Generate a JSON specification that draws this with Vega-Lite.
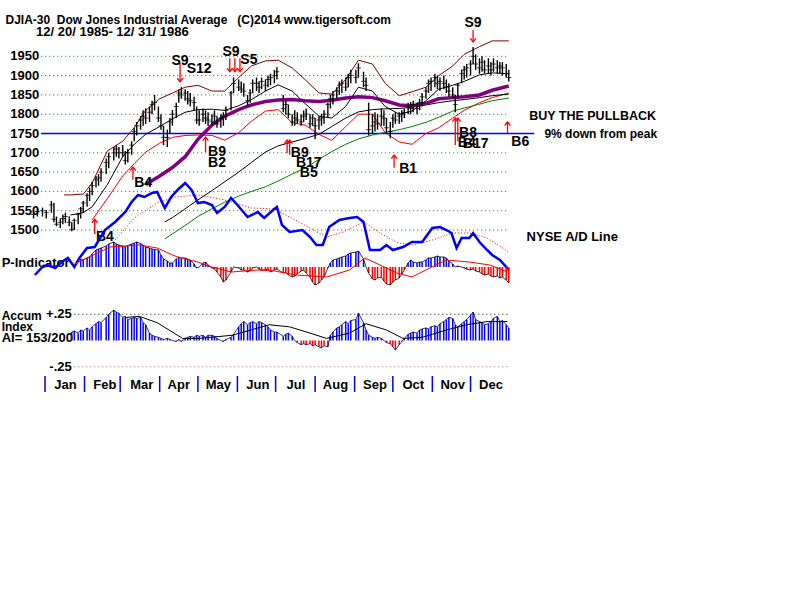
{
"$schema":"https://vega.github.io/schema/vega-lite/v6.json",
"width":800,"height":600,"padding":0,"autosize":{"type":"none"},"background":"white",
"config":{"view":{"stroke":null},"font":"Liberation Sans","mark":{"invalid":"filter"}},
"datasets":{
"bars":[
{"d":"1985-12-23","lo":1530,"hi":1552,"c":1540},
{"d":"1985-12-26","lo":1535,"hi":1555,"c":1548},
{"d":"1985-12-30","lo":1535,"hi":1558,"c":1550},
{"d":"1986-01-02","lo":1530,"hi":1552,"c":1545},
{"d":"1986-01-06","lo":1545,"hi":1575,"c":1565},
{"d":"1986-01-08","lo":1520,"hi":1570,"c":1528},
{"d":"1986-01-10","lo":1510,"hi":1535,"c":1515},
{"d":"1986-01-13","lo":1505,"hi":1530,"c":1520},
{"d":"1986-01-15","lo":1515,"hi":1540,"c":1530},
{"d":"1986-01-17","lo":1518,"hi":1545,"c":1535},
{"d":"1986-01-20","lo":1510,"hi":1535,"c":1520},
{"d":"1986-01-22","lo":1497,"hi":1520,"c":1502,"a":0.08},
{"d":"1986-01-24","lo":1500,"hi":1530,"c":1525,"a":0.09},
{"d":"1986-01-27","lo":1515,"hi":1545,"c":1540,"a":0.07},
{"d":"1986-01-29","lo":1530,"hi":1560,"c":1555,"p":80,"a":0.10},
{"d":"1986-01-31","lo":1545,"hi":1575,"c":1570,"p":70,"a":0.09},
{"d":"1986-02-03","lo":1560,"hi":1595,"c":1590,"p":90,"a":0.12},
{"d":"1986-02-05","lo":1575,"hi":1610,"c":1600,"p":100,"a":0.10},
{"d":"1986-02-07","lo":1590,"hi":1625,"c":1615,"p":130,"a":0.13},
{"d":"1986-02-10","lo":1610,"hi":1640,"c":1630,"p":170,"a":0.16},
{"d":"1986-02-12","lo":1615,"hi":1645,"c":1635,"p":180,"a":0.18},
{"d":"1986-02-14","lo":1625,"hi":1660,"c":1650,"p":190,"a":0.17},
{"d":"1986-02-18","lo":1645,"hi":1685,"c":1675,"p":210,"a":0.22},
{"d":"1986-02-20","lo":1660,"hi":1700,"c":1690,"p":230,"a":0.25},
{"d":"1986-02-24","lo":1680,"hi":1715,"c":1700,"p":250,"a":0.29},
{"d":"1986-02-26","lo":1690,"hi":1720,"c":1710,"p":230,"a":0.27},
{"d":"1986-02-28","lo":1685,"hi":1715,"c":1700,"p":220,"a":0.26},
{"d":"1986-03-03","lo":1690,"hi":1720,"c":1700,"p":210,"a":0.22},
{"d":"1986-03-05","lo":1670,"hi":1705,"c":1680,"p":200,"a":0.23},
{"d":"1986-03-07","lo":1675,"hi":1710,"c":1700,"p":215,"a":0.20},
{"d":"1986-03-10","lo":1695,"hi":1730,"c":1720,"p":230,"a":0.21},
{"d":"1986-03-12","lo":1730,"hi":1765,"c":1755,"p":240,"a":0.22},
{"d":"1986-03-14","lo":1745,"hi":1780,"c":1770,"p":250,"a":0.21},
{"d":"1986-03-17","lo":1760,"hi":1795,"c":1785,"p":235,"a":0.22},
{"d":"1986-03-19","lo":1770,"hi":1810,"c":1795,"p":220,"a":0.17},
{"d":"1986-03-21","lo":1775,"hi":1815,"c":1790,"p":200,"a":0.15},
{"d":"1986-03-24","lo":1780,"hi":1820,"c":1805,"p":190,"a":0.07},
{"d":"1986-03-26","lo":1800,"hi":1835,"c":1825,"p":180,"a":0.05},
{"d":"1986-03-28","lo":1810,"hi":1850,"c":1830,"p":175,"a":0.04},
{"d":"1986-03-31","lo":1780,"hi":1820,"c":1790,"p":170,"a":0.03},
{"d":"1986-04-02","lo":1760,"hi":1800,"c":1770,"p":120,"a":0.02},
{"d":"1986-04-04","lo":1720,"hi":1770,"c":1740,"p":80,"a":0.01},
{"d":"1986-04-07","lo":1715,"hi":1760,"c":1740,"p":60,"a":0.02},
{"d":"1986-04-09","lo":1750,"hi":1790,"c":1780,"p":40,"a":0.01},
{"d":"1986-04-11","lo":1770,"hi":1811,"c":1800,"p":40,"a":0.0},
{"d":"1986-04-14","lo":1790,"hi":1830,"c":1820,"p":80,"a":-0.01},
{"d":"1986-04-16","lo":1830,"hi":1865,"c":1855,"p":100,"a":0.01},
{"d":"1986-04-18","lo":1840,"hi":1870,"c":1850,"p":90,"a":-0.01},
{"d":"1986-04-21","lo":1835,"hi":1865,"c":1855,"p":90,"a":0.02},
{"d":"1986-04-23","lo":1825,"hi":1860,"c":1840,"p":80,"a":0.03},
{"d":"1986-04-25","lo":1820,"hi":1855,"c":1835,"p":70,"a":0.04},
{"d":"1986-04-28","lo":1810,"hi":1845,"c":1830,"p":30,"a":0.03},
{"d":"1986-04-30","lo":1775,"hi":1820,"c":1785,"p":-10,"a":0.05},
{"d":"1986-05-02","lo":1770,"hi":1810,"c":1785,"p":0,"a":0.04},
{"d":"1986-05-05","lo":1780,"hi":1815,"c":1800,"p":40,"a":0.05},
{"d":"1986-05-07","lo":1775,"hi":1810,"c":1790,"p":50,"a":0.03},
{"d":"1986-05-09","lo":1770,"hi":1805,"c":1785,"p":20,"a":0.05},
{"d":"1986-05-12","lo":1770,"hi":1800,"c":1780,"p":-10,"a":0.05},
{"d":"1986-05-14","lo":1775,"hi":1810,"c":1795,"p":-20,"a":0.04},
{"d":"1986-05-16","lo":1765,"hi":1795,"c":1775,"p":-50,"a":0.02},
{"d":"1986-05-19","lo":1765,"hi":1800,"c":1790,"p":-100,"a":0.0},
{"d":"1986-05-21","lo":1770,"hi":1805,"c":1795,"p":-150,"a":-0.01},
{"d":"1986-05-23","lo":1785,"hi":1820,"c":1810,"p":-130,"a":0.01},
{"d":"1986-05-27","lo":1810,"hi":1860,"c":1855,"p":-50,"a":0.03},
{"d":"1986-05-29","lo":1855,"hi":1895,"c":1880,"p":0,"a":0.06},
{"d":"1986-06-02","lo":1860,"hi":1890,"c":1870,"p":-10,"a":0.13},
{"d":"1986-06-04","lo":1855,"hi":1885,"c":1865,"p":-30,"a":0.16},
{"d":"1986-06-06","lo":1845,"hi":1880,"c":1860,"p":-30,"a":0.18},
{"d":"1986-06-09","lo":1820,"hi":1850,"c":1835,"p":-50,"a":0.15},
{"d":"1986-06-11","lo":1830,"hi":1865,"c":1855,"p":-40,"a":0.17},
{"d":"1986-06-13","lo":1855,"hi":1890,"c":1880,"p":-10,"a":0.18},
{"d":"1986-06-16","lo":1860,"hi":1895,"c":1880,"p":0,"a":0.16},
{"d":"1986-06-18","lo":1855,"hi":1885,"c":1870,"p":-20,"a":0.18},
{"d":"1986-06-20","lo":1865,"hi":1895,"c":1885,"p":-30,"a":0.17},
{"d":"1986-06-23","lo":1860,"hi":1890,"c":1875,"p":-30,"a":0.15},
{"d":"1986-06-25","lo":1870,"hi":1900,"c":1890,"p":-20,"a":0.13},
{"d":"1986-06-27","lo":1875,"hi":1905,"c":1895,"p":-50,"a":0.10},
{"d":"1986-06-30","lo":1880,"hi":1915,"c":1900,"p":-30,"a":0.08},
{"d":"1986-07-02","lo":1890,"hi":1922,"c":1910,"p":-20,"a":0.08},
{"d":"1986-07-07","lo":1805,"hi":1850,"c":1815,"p":-60,"a":0.04},
{"d":"1986-07-09","lo":1800,"hi":1835,"c":1825,"p":-50,"a":0.06},
{"d":"1986-07-11","lo":1790,"hi":1825,"c":1800,"p":-80,"a":0.07},
{"d":"1986-07-14","lo":1770,"hi":1800,"c":1780,"p":-100,"a":0.04},
{"d":"1986-07-16","lo":1770,"hi":1810,"c":1790,"p":-90,"a":0.0},
{"d":"1986-07-18","lo":1775,"hi":1805,"c":1785,"p":-70,"a":-0.02},
{"d":"1986-07-21","lo":1770,"hi":1800,"c":1780,"p":-40,"a":-0.04},
{"d":"1986-07-23","lo":1780,"hi":1810,"c":1795,"p":-30,"a":-0.03},
{"d":"1986-07-25","lo":1785,"hi":1815,"c":1800,"p":-60,"a":-0.04},
{"d":"1986-07-28","lo":1765,"hi":1800,"c":1775,"p":-100,"a":-0.03},
{"d":"1986-07-30","lo":1770,"hi":1800,"c":1790,"p":-150,"a":-0.05},
{"d":"1986-08-01","lo":1735,"hi":1790,"c":1770,"p":-180,"a":-0.04},
{"d":"1986-08-04","lo":1760,"hi":1795,"c":1785,"p":-160,"a":-0.06},
{"d":"1986-08-06","lo":1770,"hi":1800,"c":1790,"p":-130,"a":-0.07},
{"d":"1986-08-08","lo":1775,"hi":1810,"c":1800,"p":-100,"a":-0.05},
{"d":"1986-08-11","lo":1790,"hi":1830,"c":1825,"p":-10,"a":-0.06},
{"d":"1986-08-13","lo":1815,"hi":1850,"c":1840,"p":40,"a":0.05},
{"d":"1986-08-15","lo":1825,"hi":1860,"c":1850,"p":70,"a":0.08},
{"d":"1986-08-18","lo":1840,"hi":1870,"c":1860,"p":80,"a":0.12},
{"d":"1986-08-20","lo":1850,"hi":1885,"c":1875,"p":90,"a":0.13},
{"d":"1986-08-22","lo":1855,"hi":1890,"c":1880,"p":100,"a":0.15},
{"d":"1986-08-25","lo":1860,"hi":1895,"c":1870,"p":110,"a":0.18},
{"d":"1986-08-27","lo":1870,"hi":1905,"c":1895,"p":130,"a":0.16},
{"d":"1986-08-29","lo":1880,"hi":1915,"c":1900,"p":140,"a":0.19},
{"d":"1986-09-02","lo":1880,"hi":1915,"c":1895,"p":150,"a":0.20},
{"d":"1986-09-04","lo":1895,"hi":1932,"c":1920,"p":160,"a":0.26},
{"d":"1986-09-08","lo":1870,"hi":1910,"c":1885,"p":80,"a":0.17},
{"d":"1986-09-10","lo":1860,"hi":1895,"c":1875,"p":0,"a":0.10},
{"d":"1986-09-12","lo":1745,"hi":1830,"c":1760,"p":-60,"a":0.05},
{"d":"1986-09-15","lo":1750,"hi":1800,"c":1770,"p":-120,"a":0.03},
{"d":"1986-09-17","lo":1755,"hi":1805,"c":1780,"p":-130,"a":0.02},
{"d":"1986-09-19","lo":1760,"hi":1800,"c":1775,"p":-110,"a":0.03},
{"d":"1986-09-22","lo":1770,"hi":1815,"c":1795,"p":-100,"a":0.02},
{"d":"1986-09-24","lo":1770,"hi":1810,"c":1790,"p":-140,"a":0.0},
{"d":"1986-09-26","lo":1750,"hi":1790,"c":1765,"p":-170,"a":-0.02},
{"d":"1986-09-29","lo":1738,"hi":1780,"c":1755,"p":-180,"a":-0.03},
{"d":"1986-10-01","lo":1765,"hi":1800,"c":1790,"p":-150,"a":-0.06},
{"d":"1986-10-03","lo":1775,"hi":1805,"c":1785,"p":-130,"a":-0.09},
{"d":"1986-10-06","lo":1775,"hi":1805,"c":1795,"p":-110,"a":-0.04},
{"d":"1986-10-08","lo":1780,"hi":1810,"c":1800,"p":-70,"a":-0.01},
{"d":"1986-10-10","lo":1790,"hi":1815,"c":1805,"p":-30,"a":0.02},
{"d":"1986-10-13","lo":1800,"hi":1830,"c":1820,"p":40,"a":0.06},
{"d":"1986-10-15","lo":1800,"hi":1832,"c":1815,"p":70,"a":0.07},
{"d":"1986-10-17","lo":1805,"hi":1835,"c":1825,"p":50,"a":0.08},
{"d":"1986-10-20","lo":1800,"hi":1830,"c":1815,"p":40,"a":0.07},
{"d":"1986-10-22","lo":1810,"hi":1840,"c":1830,"p":50,"a":0.10},
{"d":"1986-10-24","lo":1820,"hi":1855,"c":1845,"p":50,"a":0.11},
{"d":"1986-10-27","lo":1840,"hi":1870,"c":1860,"p":70,"a":0.12},
{"d":"1986-10-29","lo":1855,"hi":1890,"c":1880,"p":90,"a":0.11},
{"d":"1986-10-31","lo":1860,"hi":1895,"c":1885,"p":90,"a":0.13},
{"d":"1986-11-03","lo":1870,"hi":1905,"c":1895,"p":100,"a":0.14},
{"d":"1986-11-05","lo":1865,"hi":1900,"c":1880,"p":110,"a":0.13},
{"d":"1986-11-07","lo":1860,"hi":1895,"c":1885,"p":100,"a":0.16},
{"d":"1986-11-10","lo":1865,"hi":1900,"c":1880,"p":100,"a":0.18},
{"d":"1986-11-12","lo":1855,"hi":1890,"c":1870,"p":90,"a":0.20},
{"d":"1986-11-14","lo":1845,"hi":1880,"c":1860,"p":60,"a":0.22},
{"d":"1986-11-17","lo":1840,"hi":1870,"c":1850,"p":30,"a":0.21},
{"d":"1986-11-19","lo":1805,"hi":1850,"c":1825,"p":0,"a":0.15},
{"d":"1986-11-21","lo":1840,"hi":1880,"c":1875,"p":10,"a":0.13},
{"d":"1986-11-24","lo":1880,"hi":1915,"c":1905,"p":0,"a":0.16},
{"d":"1986-11-26","lo":1890,"hi":1925,"c":1915,"p":-10,"a":0.18},
{"d":"1986-11-28","lo":1895,"hi":1930,"c":1920,"p":-20,"a":0.20},
{"d":"1986-12-01","lo":1900,"hi":1940,"c":1930,"p":-30,"a":0.24},
{"d":"1986-12-03","lo":1930,"hi":1974,"c":1950,"p":-20,"a":0.27},
{"d":"1986-12-05","lo":1915,"hi":1955,"c":1930,"p":-40,"a":0.20},
{"d":"1986-12-08","lo":1905,"hi":1945,"c":1920,"p":-50,"a":0.18},
{"d":"1986-12-10","lo":1910,"hi":1950,"c":1935,"p":-70,"a":0.17},
{"d":"1986-12-12","lo":1905,"hi":1940,"c":1915,"p":-80,"a":0.15},
{"d":"1986-12-15","lo":1905,"hi":1945,"c":1925,"p":-70,"a":0.16},
{"d":"1986-12-17","lo":1900,"hi":1935,"c":1915,"p":-90,"a":0.18},
{"d":"1986-12-19","lo":1910,"hi":1945,"c":1930,"p":-100,"a":0.21},
{"d":"1986-12-22","lo":1905,"hi":1940,"c":1920,"p":-90,"a":0.23},
{"d":"1986-12-24","lo":1905,"hi":1935,"c":1925,"p":-110,"a":0.18},
{"d":"1986-12-26","lo":1900,"hi":1935,"c":1920,"p":-100,"a":0.19},
{"d":"1986-12-29","lo":1895,"hi":1930,"c":1905,"p":-130,"a":0.15},
{"d":"1986-12-31","lo":1885,"hi":1915,"c":1895,"p":-160,"a":0.12}
],
"ma":[
{"d":"1986-01-16","ub":1591},
{"d":"1986-01-21","ub":1591,"m21":1539},
{"d":"1986-01-31","ub":1593,"m21":1545},
{"d":"1986-02-07","ub":1622,"lb":1526,"m21":1560},
{"d":"1986-02-19","ub":1705,"lb":1582,"m21":1618},
{"d":"1986-03-03","ub":1730,"lb":1640,"m21":1690},
{"d":"1986-03-12","ub":1765,"lb":1672,"m21":1722},
{"d":"1986-03-21","ub":1810,"lb":1702,"m21":1748,"m50":1618},
{"d":"1986-04-01","ub":1840,"lb":1725,"m21":1768,"m50":1640},
{"d":"1986-04-05","m100":1521,"m200":1477},
{"d":"1986-04-11","ub":1855,"lb":1740,"m21":1788,"m50":1662,"m100":1532,"m200":1490},
{"d":"1986-04-21","ub":1870,"lb":1745,"m21":1805,"m50":1690,"m100":1555,"m200":1512},
{"d":"1986-05-01","ub":1875,"lb":1746,"m21":1812,"m50":1735,"m100":1578,"m200":1535},
{"d":"1986-05-12","ub":1860,"lb":1745,"m21":1813,"m50":1772,"m100":1602,"m200":1555},
{"d":"1986-05-22","ub":1860,"lb":1733,"m21":1810,"m50":1795,"m100":1625,"m200":1572},
{"d":"1986-06-02","ub":1895,"lb":1752,"m21":1822,"m50":1812,"m100":1650,"m200":1588},
{"d":"1986-06-12","ub":1925,"lb":1782,"m21":1838,"m50":1824,"m100":1675,"m200":1600},
{"d":"1986-06-23","ub":1938,"lb":1808,"m21":1860,"m50":1833,"m100":1702,"m200":1612},
{"d":"1986-07-03","ub":1940,"lb":1812,"m21":1876,"m50":1837,"m100":1718,"m200":1627},
{"d":"1986-07-14","ub":1920,"lb":1778,"m21":1860,"m50":1838,"m100":1728,"m200":1645},
{"d":"1986-07-24","ub":1890,"lb":1772,"m21":1828,"m50":1835,"m100":1737,"m200":1660},
{"d":"1986-08-04","ub":1855,"lb":1748,"m21":1795,"m50":1833,"m100":1748,"m200":1683},
{"d":"1986-08-14","ub":1852,"lb":1732,"m21":1790,"m50":1836,"m100":1768,"m200":1703},
{"d":"1986-08-25","ub":1890,"lb":1768,"m21":1820,"m50":1842,"m100":1790,"m200":1722},
{"d":"1986-09-04","ub":1940,"lb":1800,"m21":1870,"m50":1845,"m100":1806,"m200":1736},
{"d":"1986-09-15","ub":1930,"lb":1800,"m21":1860,"m50":1843,"m100":1812,"m200":1746},
{"d":"1986-09-25","ub":1880,"lb":1752,"m21":1820,"m50":1835,"m100":1814,"m200":1753},
{"d":"1986-10-06","ub":1848,"lb":1728,"m21":1800,"m50":1824,"m100":1815,"m200":1760},
{"d":"1986-10-16","ub":1858,"lb":1722,"m21":1808,"m50":1822,"m100":1818,"m200":1768},
{"d":"1986-10-27","ub":1870,"lb":1750,"m21":1835,"m50":1828,"m100":1824,"m200":1779},
{"d":"1986-11-06","ub":1900,"lb":1765,"m21":1865,"m50":1840,"m100":1830,"m200":1792},
{"d":"1986-11-17","ub":1925,"lb":1790,"m21":1875,"m50":1843,"m100":1835,"m200":1808},
{"d":"1986-11-26","ub":1955,"lb":1810,"m21":1885,"m50":1845,"m100":1838,"m200":1816},
{"d":"1986-12-08","ub":1975,"lb":1830,"m21":1902,"m50":1850,"m100":1843,"m200":1826},
{"d":"1986-12-18","ub":1990,"lb":1843,"m21":1907,"m50":1862,"m100":1848,"m200":1835},
{"d":"1986-12-31","ub":1990,"lb":1855,"m21":1905,"m50":1873,"m100":1852,"m200":1842}
],
"ad":[
{"d":"1985-12-24","ad":-2250},{"d":"1985-12-30","ad":-1850},{"d":"1986-01-03","ad":-1750},
{"d":"1986-01-09","ad":-1900},{"d":"1986-01-14","ad":-1600},{"d":"1986-01-19","ad":-1400},
{"d":"1986-01-24","ad":-1850},{"d":"1986-01-28","ad":-1400},{"d":"1986-02-03","ad":-900},
{"d":"1986-02-09","ad":-850},{"d":"1986-02-17","ad":0},{"d":"1986-02-25","ad":400,"adm":-500},
{"d":"1986-03-05","ad":900},{"d":"1986-03-10","ad":1400},{"d":"1986-03-12","adm":600},
{"d":"1986-03-15","ad":1750},{"d":"1986-03-20","ad":1650},{"d":"1986-03-26","ad":1850},
{"d":"1986-03-30","ad":1900,"adm":1350},{"d":"1986-04-05","ad":1100},{"d":"1986-04-10","ad":1650},
{"d":"1986-04-13","adm":1650},{"d":"1986-04-15","ad":2000},{"d":"1986-04-21","ad":2350},
{"d":"1986-04-26","ad":2000},{"d":"1986-05-01","ad":1350,"adm":1750},{"d":"1986-05-06","ad":1400},
{"d":"1986-05-12","ad":1250},{"d":"1986-05-16","ad":850},{"d":"1986-05-22","ad":1150,"adm":1500},
{"d":"1986-05-27","ad":1600},{"d":"1986-06-01","ad":1250},{"d":"1986-06-09","ad":650},
{"d":"1986-06-12","adm":1100},{"d":"1986-06-17","ad":900},{"d":"1986-06-22","ad":600},
{"d":"1986-06-29","ad":1000},{"d":"1986-06-30","adm":1050},{"d":"1986-07-02","ad":1150},
{"d":"1986-07-06","ad":250},{"d":"1986-07-12","ad":-100,"adm":650},{"d":"1986-07-22","ad":0},
{"d":"1986-07-28","ad":-350,"adm":100},{"d":"1986-08-02","ad":-750},{"d":"1986-08-07","ad":-750},
{"d":"1986-08-10","adm":-350},{"d":"1986-08-12","ad":150},{"d":"1986-08-20","ad":500},
{"d":"1986-08-23","adm":-100},{"d":"1986-08-28","ad":600},{"d":"1986-09-03","ad":650},
{"d":"1986-09-08","ad":400,"adm":400},{"d":"1986-09-13","ad":-1000},{"d":"1986-09-21","ad":-1000,"adm":-150},
{"d":"1986-09-26","ad":-750},{"d":"1986-10-01","ad":-1000},{"d":"1986-10-05","adm":-650},
{"d":"1986-10-09","ad":-850},{"d":"1986-10-16","ad":-600},{"d":"1986-10-17","adm":-750},
{"d":"1986-10-24","ad":-600},{"d":"1986-11-01","ad":100,"adm":-500},{"d":"1986-11-07","ad":150},
{"d":"1986-11-12","ad":0},{"d":"1986-11-16","ad":-150},{"d":"1986-11-17","adm":-150},
{"d":"1986-11-20","ad":-900},{"d":"1986-11-24","ad":-400},{"d":"1986-11-30","ad":-400,"adm":-150},
{"d":"1986-12-03","ad":-150},{"d":"1986-12-08","ad":-600},{"d":"1986-12-14","ad":-1000,"adm":-400},
{"d":"1986-12-18","ad":-1250},{"d":"1986-12-24","ad":-1500},{"d":"1986-12-29","ad":-1850},
{"d":"1986-12-31","ad":-2000,"adm":-1100}
],
"ind":[
{"d":"1986-01-24","pm":30},{"d":"1986-02-21","pm":200},{"d":"1986-03-06","am":0.22},
{"d":"1986-03-16","pm":220,"am":0.23},{"d":"1986-03-30","pm":190,"am":0.17},{"d":"1986-04-11","pm":120},
{"d":"1986-04-15","pm":100},{"d":"1986-04-19","am":0.02},{"d":"1986-05-01","pm":50},
{"d":"1986-05-02","am":0.02},{"d":"1986-05-12","pm":0},{"d":"1986-05-27","pm":-50},
{"d":"1986-05-28","am":0.05},{"d":"1986-06-17","pm":-30},{"d":"1986-06-26","am":0.15},
{"d":"1986-06-30","pm":-40},{"d":"1986-07-12","am":0.13},{"d":"1986-07-17","pm":-80},
{"d":"1986-07-28","am":0.07},{"d":"1986-08-10","pm":-100,"am":0.02},{"d":"1986-08-28","pm":-30,"am":0.07},
{"d":"1986-09-09","pm":90},{"d":"1986-09-10","am":0.16},{"d":"1986-09-21","pm":20},
{"d":"1986-09-26","am":0.10},{"d":"1986-10-04","pm":-60},{"d":"1986-10-09","am":0.02},
{"d":"1986-10-16","pm":-100},{"d":"1986-10-24","am":0.03},{"d":"1986-10-30","pm":-10},
{"d":"1986-11-12","pm":70,"am":0.10},{"d":"1986-11-28","am":0.15},{"d":"1986-11-30","pm":50},
{"d":"1986-12-14","am":0.18},{"d":"1986-12-16","pm":20},{"d":"1986-12-30","pm":-50,"am":0.18}
],
"arr":[
{"d":"1986-02-09","top":1528,"bot":1490,"tip":1528,"dir":"up"},
{"d":"1986-03-11","top":1663,"bot":1630,"tip":1663,"dir":"up"},
{"d":"1986-04-17","top":1932,"bot":1884,"tip":1884,"dir":"down"},
{"d":"1986-05-07","top":1741,"bot":1702,"tip":1741,"dir":"up"},
{"d":"1986-05-26","top":1945,"bot":1910,"tip":1910,"dir":"down"},
{"d":"1986-05-30","top":1945,"bot":1910,"tip":1910,"dir":"down"},
{"d":"1986-06-03","top":1945,"bot":1910,"tip":1910,"dir":"down"},
{"d":"1986-07-10","top":1733,"bot":1699,"tip":1733,"dir":"up"},
{"d":"1986-07-12","top":1733,"bot":1695,"tip":1733,"dir":"up"},
{"d":"1986-10-02","top":1694,"bot":1661,"tip":1694,"dir":"up"},
{"d":"1986-11-19","top":1790,"bot":1720,"tip":1790,"dir":"up"},
{"d":"1986-11-21","top":1790,"bot":1730,"tip":1790,"dir":"up"},
{"d":"1986-12-03","top":2018,"bot":1987,"tip":1987,"dir":"down"},
{"d":"1986-12-30","top":1780,"bot":1751,"tip":1780,"dir":"up"}
],
"lab":[
{"d":"1986-02-17","y":1482,"t":"B4"},{"d":"1986-03-19","y":1622,"t":"B4"},
{"d":"1986-04-17","y":1938,"t":"S9"},{"d":"1986-05-02","y":1917,"t":"S12"},
{"d":"1986-05-27","y":1961,"t":"S9"},{"d":"1986-06-10","y":1940,"t":"S5"},
{"d":"1986-05-16","y":1701,"t":"B9"},{"d":"1986-05-16","y":1673,"t":"B2"},
{"d":"1986-07-20","y":1699,"t":"B9"},{"d":"1986-07-27","y":1673,"t":"B17"},
{"d":"1986-07-27","y":1647,"t":"B5"},{"d":"1986-10-13","y":1658,"t":"B1"},
{"d":"1986-12-03","y":2036,"t":"S9"},{"d":"1986-11-29","y":1752,"t":"B8"},
{"d":"1986-11-28","y":1726,"t":"B4"},{"d":"1986-12-05","y":1724,"t":"B17"},
{"d":"1987-01-09","y":1728,"t":"B6"}
],
"notes":[
{"d":"1985-12-01","y":2044,"t":"DJIA-30\u00a0\u00a0Dow Jones Industrial Average\u00a0\u00a0\u00a0(C)2014 www.tigersoft.com","s":12},
{"d":"1985-12-25","y":2013,"t":"12/ 20/ 1985- 12/ 31/ 1986","s":13},
{"d":"1987-01-16","y":1795,"t":"BUY THE PULLBACK","s":12.5},
{"d":"1987-01-28","y":1749,"t":"9% down from peak","s":12},
{"d":"1987-01-14","y":1482,"t":"NYSE A/D Line","s":13},
{"d":"1985-11-28","y":1415,"t":"P-Indicator","s":13},
{"d":"1985-11-28","y":1277,"t":"Accum","s":12},
{"d":"1985-11-28","y":1249,"t":"Index","s":12},
{"d":"1985-11-28","y":1220,"t":"AI= 153/200","s":13}
],
"grid":[
{"g":1500,"s":"1985-12-29","e":"1986-12-31"},{"g":1550,"s":"1985-12-29","e":"1986-12-31"},
{"g":1600,"s":"1985-12-29","e":"1986-12-31"},{"g":1650,"s":"1985-12-29","e":"1986-12-31"},
{"g":1700,"s":"1985-12-29","e":"1986-12-31"},{"g":1750,"s":"1985-12-29","e":"1986-12-31"},
{"g":1800,"s":"1985-12-29","e":"1986-12-31"},{"g":1850,"s":"1985-12-29","e":"1986-12-31"},
{"g":1900,"s":"1985-12-29","e":"1986-12-31"},{"g":1950,"s":"1985-12-29","e":"1986-12-31"}
],
"peak":[{"g":1750,"s":"1985-12-29","e":"1987-01-20"}],
"aig":[{"v":0.25,"s":"1986-01-24","e":"1986-12-31","t":"+.25","l":"1986-01-22"},{"v":-0.25,"s":"1986-01-24","e":"1986-12-31","t":"-.25","l":"1986-01-22"}],
"months":[
{"d":"1986-01-01","mid":"1986-01-17","m":"Jan"},{"d":"1986-02-01","mid":"1986-02-17","m":"Feb"},
{"d":"1986-03-01","mid":"1986-03-18","m":"Mar"},{"d":"1986-04-01","mid":"1986-04-16","m":"Apr"},
{"d":"1986-05-01","mid":"1986-05-17","m":"May"},{"d":"1986-06-01","mid":"1986-06-17","m":"Jun"},
{"d":"1986-07-01","mid":"1986-07-17","m":"Jul"},{"d":"1986-08-01","mid":"1986-08-17","m":"Aug"},
{"d":"1986-09-01","mid":"1986-09-17","m":"Sep"},{"d":"1986-10-01","mid":"1986-10-17","m":"Oct"},
{"d":"1986-11-01","mid":"1986-11-17","m":"Nov"},{"d":"1986-12-01","mid":"1986-12-17","m":"Dec"}
]
},
"encoding":{"x":{"field":"d","type":"temporal","axis":null,
 "scale":{"domain":["1985-11-26T16:00:00","1987-08-16T14:00:00"]}}},
"layer":[
{"layer":[
 {"data":{"name":"grid"},"mark":{"type":"rule","color":"#008000","strokeDash":[1,3],"strokeWidth":1},
  "encoding":{"x":{"field":"s","type":"temporal"},"x2":{"field":"e"},
   "y":{"field":"g","type":"quantitative","scale":{"domain":[541.5,2095.9],"nice":false,"zero":false},"axis":null}}},
 {"data":{"name":"grid"},"mark":{"type":"text","font":"Liberation Sans","fontSize":13,"fontWeight":"bold","align":"right","baseline":"middle","dx":-2,"color":"black"},
  "encoding":{"x":{"field":"s","type":"temporal"},"y":{"field":"g","type":"quantitative","axis":null},"text":{"field":"g"}}},
 {"data":{"name":"peak"},"mark":{"type":"rule","color":"#0000ff","strokeWidth":1.5},
  "encoding":{"x":{"field":"s","type":"temporal"},"x2":{"field":"e"},"y":{"field":"g","type":"quantitative","axis":null}}},
 {"data":{"name":"ma"},"mark":{"type":"line","color":"#800000","strokeWidth":1},"encoding":{"y":{"field":"ub","type":"quantitative","axis":null}}},
 {"data":{"name":"ma"},"mark":{"type":"line","color":"#ff0000","strokeWidth":1},"encoding":{"y":{"field":"lb","type":"quantitative","axis":null}}},
 {"data":{"name":"ma"},"mark":{"type":"line","color":"#008000","strokeWidth":1},"encoding":{"y":{"field":"m200","type":"quantitative","axis":null}}},
 {"data":{"name":"ma"},"mark":{"type":"line","color":"#000000","strokeWidth":1},"encoding":{"y":{"field":"m100","type":"quantitative","axis":null}}},
 {"data":{"name":"ma"},"mark":{"type":"line","color":"#800080","strokeWidth":3.5},"encoding":{"y":{"field":"m50","type":"quantitative","axis":null}}},
 {"data":{"name":"ma"},"mark":{"type":"line","color":"#000000","strokeWidth":1},"encoding":{"y":{"field":"m21","type":"quantitative","axis":null}}},
 {"data":{"name":"bars"},"mark":{"type":"rule","color":"black","strokeWidth":1.4},"encoding":{"y":{"field":"lo","type":"quantitative","axis":null},"y2":{"field":"hi"}}},
 {"data":{"name":"bars"},"mark":{"type":"tick","orient":"horizontal","color":"black","size":5,"thickness":1},"encoding":{"y":{"field":"c","type":"quantitative","axis":null}}},
 {"data":{"name":"arr"},"mark":{"type":"rule","color":"#ff0000","strokeWidth":1.3},"encoding":{"y":{"field":"top","type":"quantitative","axis":null},"y2":{"field":"bot"}}},
 {"data":{"name":"arr"},"mark":{"type":"point","color":"#ff0000","filled":false,"strokeWidth":1.3,"size":30,"opacity":1},
  "encoding":{"y":{"field":"tip","type":"quantitative","axis":null},"shape":{"field":"dir","type":"nominal","scale":{"domain":["up","down"],"range":["M-1,1.3L0,0L1,1.3","M-1,-1.3L0,0L1,-1.3"]},"legend":null}}},
 {"data":{"name":"lab"},"mark":{"type":"text","font":"Liberation Sans","fontSize":14,"fontWeight":"bold","align":"center","baseline":"middle","color":"black"},
  "encoding":{"y":{"field":"y","type":"quantitative","axis":null},"text":{"field":"t"}}},
 {"data":{"name":"notes"},"mark":{"type":"text","font":"Liberation Sans","fontWeight":"bold","align":"left","baseline":"middle","color":"black"},
  "encoding":{"y":{"field":"y","type":"quantitative","axis":null},"text":{"field":"t"},"size":{"field":"s","type":"quantitative","scale":null}}}
]},
{"layer":[
 {"data":{"name":"ad"},"mark":{"type":"line","color":"#ff0000","strokeWidth":1,"strokeDash":[1,2]},
  "encoding":{"y":{"field":"adm","type":"quantitative","scale":{"domain":[-18500,11500],"nice":false,"zero":false},"axis":null}}},
 {"data":{"name":"ad"},"mark":{"type":"line","color":"#0000ff","strokeWidth":2.5},
  "encoding":{"y":{"field":"ad","type":"quantitative","axis":null}}}
]},
{"layer":[
 {"data":{"name":"bars"},"mark":{"type":"rule","strokeWidth":1.5},
  "encoding":{"y":{"field":"p","type":"quantitative","scale":{"domain":[-3330,2670],"nice":false,"zero":false},"axis":null},"y2":{"datum":0},
   "color":{"condition":{"test":"datum.p >= 0","value":"#0000ff"},"value":"#ff0000"}}},
 {"data":{"name":"bars"},"mark":{"type":"line","color":"black","strokeWidth":0.8},"encoding":{"y":{"field":"p","type":"quantitative","axis":null}}},
 {"data":{"name":"ind"},"mark":{"type":"line","color":"#ff0000","strokeWidth":1},"encoding":{"y":{"field":"pm","type":"quantitative","axis":null}}}
]},
{"layer":[
 {"data":{"name":"aig"},"mark":{"type":"rule","strokeDash":[1,3],"strokeWidth":1},
  "encoding":{"x":{"field":"s","type":"temporal"},"x2":{"field":"e"},
   "y":{"field":"v","type":"quantitative","scale":{"domain":[-2.4714,3.2429],"nice":false,"zero":false},"axis":null},
   "color":{"condition":{"test":"datum.v > 0","value":"#000000"},"value":"#b06080"}}},
 {"data":{"name":"aig"},"mark":{"type":"text","font":"Liberation Sans","fontSize":13,"fontWeight":"bold","align":"right","baseline":"middle","color":"black"},
  "encoding":{"x":{"field":"l","type":"temporal"},"y":{"field":"v","type":"quantitative","axis":null},"text":{"field":"t"}}},
 {"data":{"name":"bars"},"mark":{"type":"rule","strokeWidth":1.5},
  "encoding":{"y":{"field":"a","type":"quantitative","axis":null},"y2":{"datum":0},
   "color":{"condition":{"test":"datum.a >= 0","value":"#0000ff"},"value":"#ff0000"}}},
 {"data":{"name":"bars"},"mark":{"type":"line","color":"#000060","strokeWidth":0.8},"encoding":{"y":{"field":"a","type":"quantitative","axis":null}}},
 {"data":{"name":"ind"},"mark":{"type":"line","color":"black","strokeWidth":1},"encoding":{"y":{"field":"am","type":"quantitative","axis":null}}},
 {"data":{"name":"months"},"mark":{"type":"rule","color":"#0000ff","strokeWidth":1.5},
  "encoding":{"y":{"datum":-0.338,"type":"quantitative","axis":null},"y2":{"datum":-0.49}}},
 {"data":{"name":"months"},"mark":{"type":"text","font":"Liberation Sans","fontSize":13,"fontWeight":"bold","align":"center","baseline":"middle","color":"black"},
  "encoding":{"x":{"field":"mid","type":"temporal"},"y":{"datum":-0.424,"type":"quantitative","axis":null},"text":{"field":"m"}}}
]}
],
"resolve":{"scale":{"y":"independent"}}
}
